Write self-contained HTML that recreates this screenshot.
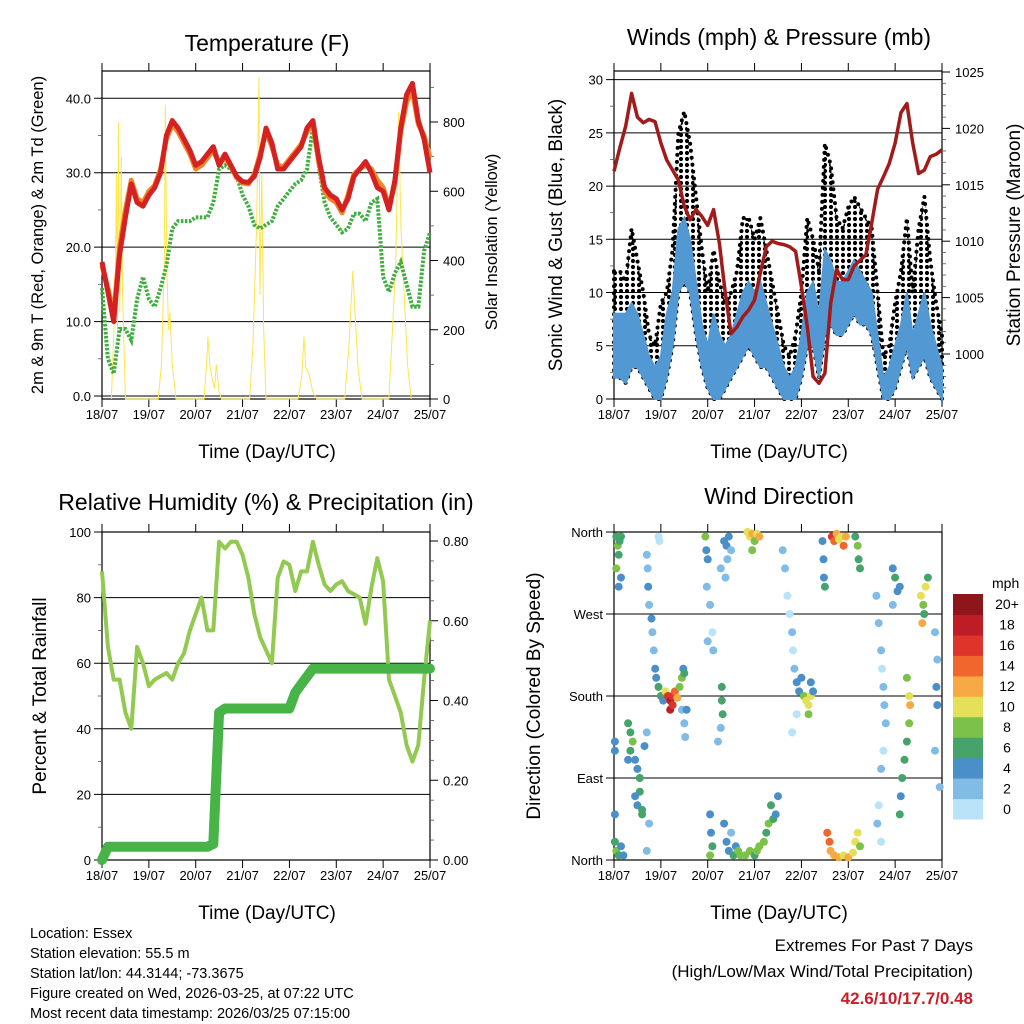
<!DOCTYPE html>
<html><head><meta charset="utf-8"><style>
html,body{margin:0;padding:0;background:#fff;}
svg{display:block;font-family:"Liberation Sans",Arial,sans-serif;}
</style></head><body>
<svg id="s" width="1024" height="1024" viewBox="0 0 1024 1024" xmlns="http://www.w3.org/2000/svg">
<defs>
<pattern id="dots" width="6" height="6" patternUnits="userSpaceOnUse"><circle cx="3" cy="3" r="2.1" fill="#000"/></pattern>
</defs>
<g>
<text x="267" y="51" font-size="23" text-anchor="middle">Temperature (F)</text>
<text transform="translate(43,235) rotate(-90)" font-size="16.5" text-anchor="middle">2m &amp; 9m T (Red, Orange) &amp; 2m Td (Green)</text>
<text transform="translate(497,242) rotate(-90)" font-size="16.5" text-anchor="middle">Solar Insolation (Yellow)</text>
<text x="267" y="458" font-size="19" text-anchor="middle">Time (Day/UTC)</text>
</g>
<g>
<text x="779" y="45" font-size="23" text-anchor="middle">Winds (mph) &amp; Pressure (mb)</text>
<text transform="translate(562,235) rotate(-90)" font-size="19" text-anchor="middle">Sonic Wind &amp; Gust (Blue, Black)</text>
<text transform="translate(1020,235) rotate(-90)" font-size="19" text-anchor="middle">Station Pressure (Maroon)</text>
<text x="779" y="458" font-size="19" text-anchor="middle">Time (Day/UTC)</text>
</g>
<g>
<text x="266" y="510" font-size="23" text-anchor="middle">Relative Humidity (%) &amp; Precipitation (in)</text>
<text transform="translate(46,696) rotate(-90)" font-size="19" text-anchor="middle">Percent &amp; Total Rainfall</text>
<text x="267" y="919" font-size="19" text-anchor="middle">Time (Day/UTC)</text>
</g>
<g>
<text x="779" y="504" font-size="23" text-anchor="middle">Wind Direction</text>
<text transform="translate(540,696) rotate(-90)" font-size="19" text-anchor="middle">Direction (Colored By Speed)</text>
<text x="779" y="919" font-size="19" text-anchor="middle">Time (Day/UTC)</text>
<text x="992" y="588" font-size="14">mph</text>
</g>
<g font-size="14.5">
<text x="30" y="938">Location: Essex</text>
<text x="30" y="958">Station elevation: 55.5 m</text>
<text x="30" y="978">Station lat/lon: 44.3144; -73.3675</text>
<text x="30" y="998">Figure created on Wed, 2026-03-25, at 07:22 UTC</text>
<text x="30" y="1018">Most recent data timestamp: 2026/03/25 07:15:00</text>
</g>
<g text-anchor="end">
<text x="973" y="951" font-size="17">Extremes For Past 7 Days</text>
<text x="973" y="977" font-size="17">(High/Low/Max Wind/Total Precipitation)</text>
<text x="973" y="1004" font-size="17" font-weight="bold" fill="#c8202a">42.6/10/17.7/0.48</text>
</g>
</svg>
<script>
const dayLabels=["18/07","19/07","20/07","21/07","22/07","23/07","24/07","25/07"];
const times3h=[0,0.125,0.25,0.375,0.5,0.625,0.75,0.875,1,1.125,1.25,1.375,1.5,1.625,1.75,1.875,2,2.125,2.25,2.375,2.5,2.625,2.75,2.875,3,3.125,3.25,3.375,3.5,3.625,3.75,3.875,4,4.125,4.25,4.375,4.5,4.625,4.75,4.875,5,5.125,5.25,5.375,5.5,5.625,5.75,5.875,6,6.125,6.25,6.375,6.5,6.625,6.75,6.875,7];
const temp2m=[18,14,10,19,24,28.5,26,25.5,27,28,30,35,37,36,34.5,33,31,31.5,32.5,33.5,31,32.5,31,29.5,28.8,28.7,29.5,32,36,34,30.5,30.5,31.5,32.5,33.5,36,37,32,28,27,26.5,25,26.5,29.5,30.5,31.5,30,28,27.5,25,29,36,40.5,42,37,34.5,30];
const temp9m=[17.5,14.5,11,20,25,29,26.5,26,27.5,28.3,30.5,34.5,36.5,35.5,34,32.5,30.5,31,32,33,31.2,32,30.8,29.3,28.6,28.5,29.8,32.5,35.5,33.5,31,30.8,31.8,32.8,33.8,35.5,36.5,31.5,27.5,26.5,26,24.6,27,29.8,30.5,31,30.5,29,28,25.5,28.5,35.5,39.5,41,36.5,35,32];
const dewpt=[14.5,5,3,9,9,7.5,13,16,13,12,14.5,17.5,22.5,23.5,23.5,23.5,24,24,24,26,30.5,31,30.5,29.5,27,25.5,23,22.5,23,23.5,25.5,26.5,27.5,28.5,29,30.5,36,31,26,24,23,22,22.5,24.5,24.5,23.5,26,26.5,16,14,16.5,18,15,12,12,19.5,22];
const solarT=[0.2,0.28,0.31,0.33,0.35,0.38,0.41,0.44,0.47,0.5,1.2,1.27,1.33,1.35,1.38,1.42,1.45,1.5,1.58,2.18,2.24,2.26,2.3,2.35,2.4,2.44,2.5,2.55,3.15,3.22,3.3,3.35,3.37,3.41,3.45,3.5,4.18,4.26,4.31,4.35,4.42,4.5,4.58,5.18,5.27,5.35,5.4,5.47,5.55,6.12,6.2,6.27,6.33,6.38,6.45,6.52,6.6];
const solarV=[0,300,650,200,800,250,700,300,150,0,0,100,400,850,400,200,250,100,0,0,120,180,100,60,30,100,20,0,0,150,500,930,300,650,200,0,0,60,180,90,70,20,0,0,150,370,250,80,0,0,200,400,830,500,300,100,0];
const pressure=[1016.2,1018.3,1020.2,1023.1,1021,1020.5,1020.8,1020.6,1018.7,1017.2,1016.3,1015.4,1013.1,1011.9,1012.8,1012.2,1011.4,1012.8,1009.8,1005.4,1001.8,1002.4,1003.3,1003.9,1004.8,1007.2,1009.5,1010,1009.8,1009.7,1009.5,1009.1,1006,1002.4,998,997.4,998.3,1004.5,1007.5,1006.6,1006.6,1007.8,1008.3,1008.8,1011.6,1014.6,1015.7,1016.9,1018.7,1021.4,1022.2,1018.7,1016,1016.3,1017.5,1017.7,1018.1];
const windLo=[2,2,1.5,3,3,2,1,0,0,2,5,10,11,10,6,3,1,0,0,1,2,3,4,5,4,3,3,2,1,0,0,0,2,5,5,2,6,7,6,6,7,8,7,7,6,3,0,0,1,3,5,2,3,4,2,1,0];
const windHi=[8,8,8,9,8,6,4,3,4,8,10,16,17,15,11,7,5,8,6,5,6,8,10,11,10,11,9,7,5,3,2,3,6,10,11,8,14,13,11,11,12,13,12,11,10,6,2,3,5,7,10,6,8,10,7,5,3];
const gustHi=[12,12,11,16,13,10,6,5,9,10,14,25,27,24,19,14,10,14,11,9,10,12,17,17,15,17,14,11,8,5,4,6,10,17,15,12,24,22,17,16,18,19,18,17,16,10,4,5,9,12,17,10,16,19,13,9,6];
const rh=[88,65,55,55,45,40,65,60,53,55,56,57,55,60,63,70,75,80,70,70,97,95,97,97,93,86,75,68,64,60,86,91,90,82,88,88,97,90,84,82,84,85,82,81,80,72,83,92,85,55,50,45,35,30,35,55,73];
const precip=[0,0.033,0.033,0.033,0.033,0.033,0.033,0.033,0.033,0.033,0.033,0.033,0.033,0.033,0.033,0.033,0.033,0.033,0.033,0.04,0.37,0.38,0.38,0.38,0.38,0.38,0.38,0.38,0.38,0.38,0.38,0.38,0.38,0.42,0.44,0.46,0.48,0.48,0.48,0.48,0.48,0.48,0.48,0.48,0.48,0.48,0.48,0.48,0.48,0.48,0.48,0.48,0.48,0.48,0.48,0.48,0.48];
const dirT=[0.05,0.08,0.1,0.12,0.15,0.05,0.1,0.15,0.02,0.05,0.1,0.15,0.2,0.02,0.02,0.02,0.3,0.35,0.4,0.35,0.45,0.5,0.55,0.55,0.5,0.6,0.6,0.45,0.3,0.65,0.7,0.7,0.72,0.73,0.75,0.8,0.82,0.85,0.88,0.9,0.75,0.7,0.95,1.0,1.05,1.1,1.15,1.2,1.25,1.3,1.2,1.25,1.35,1.4,1.45,1.48,1.5,0.95,0.97,1.45,1.5,1.52,1.55,1.95,1.97,2.0,1.98,2.05,2.1,2.12,2.0,2.05,2.07,2.1,2.05,2.3,2.3,2.32,2.28,2.22,2.35,2.4,2.45,2.42,2.38,2.28,2.5,2.35,2.4,2.45,2.5,2.55,2.6,2.65,2.7,2.85,2.9,2.95,3.0,3.05,3.1,2.95,2.8,2.9,3.0,3.05,3.1,3.2,3.3,3.35,3.4,3.45,3.5,3.25,3.6,3.65,3.7,3.75,3.8,3.82,3.85,3.9,3.95,3.9,3.8,4.05,4.1,4.15,4.2,4.15,4.25,4.2,4.0,4.45,4.47,4.48,4.5,4.65,4.7,4.75,4.8,4.85,4.9,4.95,4.55,4.6,4.62,4.7,4.8,4.9,5.0,5.1,5.15,5.2,5.25,5.15,5.2,5.22,5.25,5.6,5.65,5.7,5.72,5.75,5.77,5.8,5.75,5.7,5.65,5.62,5.7,5.95,6.0,6.05,6.1,5.95,6.25,6.3,6.32,6.3,6.25,6.2,6.15,6.12,6.1,6.55,6.6,6.62,6.65,6.58,6.7,6.85,6.9,6.88,6.9,6.85,6.95];
const dirDeg=[355,345,335,350,355,320,300,310,20,10,5,15,5,50,130,120,150,140,130,120,110,100,90,75,60,55,50,70,110,125,140,335,320,300,280,265,250,230,210,200,40,10,190,180,175,185,180,175,180,185,165,170,178,190,200,210,205,355,350,165,150,135,165,355,340,330,300,280,250,230,240,50,30,15,5,190,175,160,145,130,350,345,355,330,310,320,340,40,20,10,30,5,15,10,5,360,355,358,350,358,355,340,5,10,5,10,15,20,40,60,45,50,70,30,340,320,290,270,250,230,210,195,185,160,140,180,175,170,180,160,185,195,200,350,330,310,300,355,350,358,352,355,345,355,30,20,10,5,3,5,3,8,20,30,15,355,345,330,320,290,260,230,210,190,170,150,120,100,60,40,20,320,310,295,300,280,200,180,170,150,130,110,90,70,50,290,280,270,300,260,310,250,220,190,170,120,80];
const dirSpd=[7,8,7,6,6,8,4,4,6,8,6,5,5,4,4,4,6,7,8,6,4,5,6,6,5,7,6,4,4,4,3,3,2,4,3,4,3,2,4,5,2,3,6,6,5,10,16,18,17,14,18,16,12,8,8,4,6,1,1,3,2,3,4,8,4,4,2,2,1,2,2,4,4,6,8,6,6,6,3,2,4,4,5,3,2,2,3,4,4,5,3,6,5,8,9,10,10,12,9,11,13,9,8,9,7,8,9,8,8,6,6,5,4,7,2,2,1,1,2,1,2,4,5,1,1,8,10,10,10,9,5,4,4,4,4,4,6,16,14,12,10,11,14,12,14,15,13,12,12,10,12,10,10,10,9,6,8,6,6,2,2,2,1,3,2,2,1,2,1,2,1,4,6,4,5,3,8,10,12,8,7,6,6,5,6,10,9,7,10,12,7,3,3,4,4,3,3];
const speedBins=["0","2","4","6","8","10","12","14","16","18","20+"];
const speedColors=["#b8e3f8","#80bce6","#4a8fc7","#46a36c","#7cc14a","#e5e059","#f6a945","#f0662c","#dd352b","#be1d25","#8e1519"];

const NS="http://www.w3.org/2000/svg";
const svg=document.getElementById('s');
function mk(tag,attrs,name,parent){
  const el=document.createElementNS(NS,tag);
  for(const k in attrs) el.setAttribute(k,attrs[k]);
  
  
  (parent||svg).appendChild(el);
  return el;
}
function txt(s,x,y,size,anchor,name,parent){
  const el=mk('text',{x:x,y:y,'font-size':size,'text-anchor':anchor},name,parent);
  el.textContent=s;return el;
}
const PW=328;
function xs(px0){return t=>px0+t*PW/7;}
function lin(v0,y0,v1,y1){return v=>y0+(v-v0)*(y1-y0)/(v1-v0);}
function path(xsArr,ysArr,fx,fy){let d='';for(let i=0;i<xsArr.length;i++){d+=(i?'L':'M')+fx(xsArr[i]).toFixed(1)+','+fy(ysArr[i]).toFixed(1);}return d;}

function frame(px0,top,bot,name){
  const g=mk('g',{},name);
  mk('rect',{x:px0,y:top,width:PW,height:bot-top,fill:'none',stroke:'#000','stroke-width':1.2},'plot-frame',g);
  const fx=xs(px0);
  dayLabels.forEach((l,i)=>{
    const x=fx(i);
    mk('line',{x1:x,y1:top-8,x2:x,y2:top,stroke:'#000','stroke-width':1},'x-tick-top',g);
    mk('line',{x1:x,y1:bot,x2:x,y2:bot+8,stroke:'#000','stroke-width':1},'x-tick-bottom',g);
    txt(l,x,bot+20,13,'middle','x-tick-label',g);
  });
  return g;
}
function yAxis(g,vals,labels,fy,px0,side,grid,minor){
  vals.forEach((v,i)=>{
    const y=fy(v);
    if(side==='left'){
      if(grid) mk('line',{x1:px0-8,y1:y,x2:px0+PW,y2:y,stroke:'#000','stroke-width':1},'grid-line',g);
      else mk('line',{x1:px0-8,y1:y,x2:px0,y2:y,stroke:'#000','stroke-width':1},'y-tick',g);
      txt(labels[i],px0-11,y+5,13,'end','y-tick-label',g);
    } else {
      mk('line',{x1:px0+PW,y1:y,x2:px0+PW+8,y2:y,stroke:'#000','stroke-width':1},'y2-tick',g);
      txt(labels[i],px0+PW+13,y+5,13,'start','y2-tick-label',g);
    }
  });
  (minor||[]).forEach(v=>{const y=fy(v);
    if(side==='left') mk('line',{x1:px0-4,y1:y,x2:px0,y2:y,stroke:'#555','stroke-width':0.8},'y-minor-tick',g);
    else mk('line',{x1:px0+PW,y1:y,x2:px0+PW+4,y2:y,stroke:'#555','stroke-width':0.8},'y2-minor-tick',g);});
}

// Panel 1: temperature
(function(){
  const top=71,bot=399,fx=xs(102);
  const fy=lin(0,396,40,98.3), fs=lin(0,399,800,122);
  const g=frame(102,top,bot,'temperature-plot');
  yAxis(g,[0,10,20,30,40],["0.0","10.0","20.0","30.0","40.0"],fy,102,'left',true,[5,15,25,35]);
  yAxis(g,[0,200,400,600,800],["0","200","400","600","800"],fs,102,'right',false,[100,300,500,700,900]);
  mk('path',{d:path(solarT,solarV,fx,fs),fill:'none',stroke:'#fde54c','stroke-width':1},'solar-line',g);
  mk('path',{d:path(times3h,dewpt,fx,fy),fill:'none',stroke:'#40ad40','stroke-width':4,'stroke-dasharray':'2.5 1.5'},'dewpoint-line',g);
  mk('path',{d:path(times3h,temp9m,fx,fy),fill:'none',stroke:'#f58426','stroke-width':5,'stroke-linejoin':'round'},'temp-9m-line',g);
  mk('path',{d:path(times3h,temp2m,fx,fy),fill:'none',stroke:'#d42121','stroke-width':5,'stroke-linejoin':'round'},'temp-2m-line',g);
})();

// Panel 2: winds
(function(){
  const top=71,bot=399,fx=xs(614);
  const fy=lin(0,399,30,79.6), fp=lin(1000,354,1025,72);
  const g=frame(614,top,bot,'winds-plot');
  yAxis(g,[0,5,10,15,20,25,30],["0","5","10","15","20","25","30"],fy,614,'left',true,[2.5,7.5,12.5,17.5,22.5,27.5]);
  yAxis(g,[1000,1005,1010,1015,1020,1025],["1000","1005","1010","1015","1020","1025"],fp,614,'right',false,[997,998,999,1001,1002,1003,1004,1006,1007,1008,1009,1011,1012,1013,1014,1016,1017,1018,1019,1021,1022,1023,1024]);
  let up='',dn='';
  times3h.forEach((t,i)=>{up+=(i?'L':'M')+fx(t).toFixed(1)+','+fy(gustHi[i]).toFixed(1);});
  for(let i=times3h.length-1;i>=0;i--){dn+='L'+fx(times3h[i]).toFixed(1)+','+fy(windLo[i]).toFixed(1);}
  mk('path',{d:up+dn+'Z',fill:'url(#dots)',stroke:'#000','stroke-width':4,'stroke-dasharray':'0 7','stroke-linecap':'round'},'gust-points',g);
  let up2='',dn2='';
  times3h.forEach((t,i)=>{up2+=(i?'L':'M')+fx(t).toFixed(1)+','+fy(windHi[i]).toFixed(1);});
  for(let i=times3h.length-1;i>=0;i--){dn2+='L'+fx(times3h[i]).toFixed(1)+','+fy(windLo[i]).toFixed(1);}
  mk('path',{d:up2+dn2+'Z',fill:'#5298d2',stroke:'#5298d2','stroke-width':2},'wind-band',g);
  mk('path',{d:path(times3h,pressure,fx,fp),fill:'none',stroke:'#a21b1b','stroke-width':3.5,'stroke-linejoin':'round'},'pressure-line',g);
})();

// Panel 3: humidity
(function(){
  const top=532,bot=860,fx=xs(102);
  const fy=lin(0,860,100,532), fr=lin(0,860,0.8,541);
  const g=frame(102,top,bot,'humidity-plot');
  yAxis(g,[0,20,40,60,80,100],["0","20","40","60","80","100"],fy,102,'left',true,[10,30,50,70,90]);
  yAxis(g,[0,0.2,0.4,0.6,0.8],["0.00","0.20","0.40","0.60","0.80"],fr,102,'right',false,[0.05,0.1,0.15,0.25,0.3,0.35,0.45,0.5,0.55,0.65,0.7,0.75]);
  mk('path',{d:path(times3h,rh,fx,fy),fill:'none',stroke:'#93c950','stroke-width':4,'stroke-linejoin':'round'},'humidity-line',g);
  mk('path',{d:path(times3h,precip,fx,fr),fill:'none',stroke:'#48b448','stroke-width':10,'stroke-linejoin':'round','stroke-linecap':'round'},'precip-line',g);
})();

// Panel 4: wind direction
(function(){
  const top=532,bot=860,fx=xs(614);
  const fy=lin(0,860,360,532);
  const g=frame(614,top,bot,'direction-plot');
  yAxis(g,[0,90,180,270,360],["North","East","South","West","North"],fy,614,'left',true,[]);
  dirT.forEach((t,i)=>{
    const b=Math.min(10,Math.max(0,Math.floor(dirSpd[i]/2)));
    mk('circle',{cx:fx(t).toFixed(1),cy:fy(dirDeg[i]).toFixed(1),r:4,fill:speedColors[b]},'direction-point',g);
  });
  const cb=mk('g',{},'speed-colorbar');
  const bh=(819-594)/speedBins.length;
  speedBins.forEach((l,i)=>{
    const y=819-(i+1)*bh;
    mk('rect',{x:953,y:y.toFixed(1),width:30,height:(bh+0.5).toFixed(1),fill:speedColors[i]},'colorbar-box',cb);
    txt(l,1007,y+bh/2+5,14,'middle','colorbar-label',cb);
  });
})();
</script>
</body></html>
